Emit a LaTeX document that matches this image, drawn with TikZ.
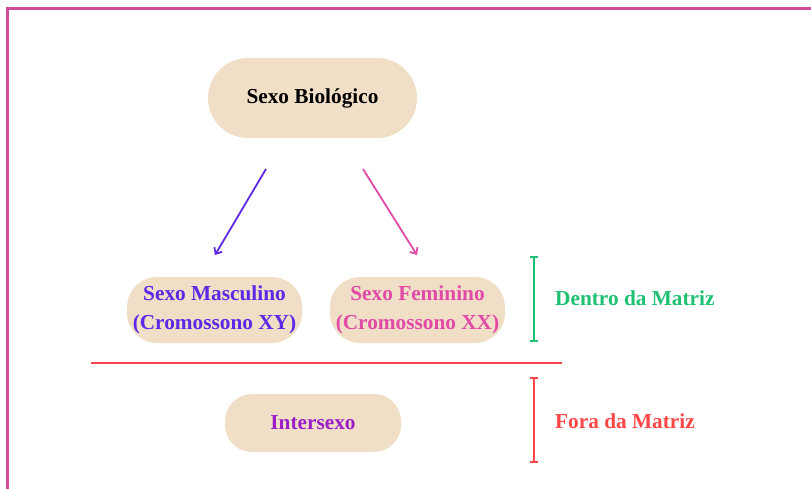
\documentclass[tikz,border=0pt]{standalone}
\usepackage{fontspec}
\setmainfont{Liberation Serif}
\usetikzlibrary{arrows.meta}
\definecolor{pillfill}{HTML}{F0DFC6}
\definecolor{framec}{HTML}{D04A9E}
\definecolor{mascc}{HTML}{5F27E6}
\definecolor{femc}{HTML}{E24AA8}
\definecolor{interc}{HTML}{9B1FC8}
\definecolor{greenc}{HTML}{1EC072}
\definecolor{redc}{HTML}{FF4646}
\tikzset{
  pill/.style={fill=pillfill, draw=none, inner sep=0pt, align=center,
    font=\fontsize{21.3}{29}\selectfont\bfseries},
  lbl/.style={anchor=west, inner sep=0pt, font=\fontsize{21.3}{29}\selectfont\bfseries},
  conn/.style={line width=1.8pt, -{Straight Barb[length=5pt,width=9pt]}},
  brace/.style={line width=2pt, {Bar[width=8pt]}-{Bar[width=8pt]}}
}
\begin{document}
\begin{tikzpicture}[x=1pt,y=-1pt]
\useasboundingbox (0,0) rectangle (811,489);
\clip (0,0) rectangle (811,489);
\draw[framec, line width=2.8pt] (7.8,8.7) rectangle (840,520);

\node[pill, minimum width=209pt, minimum height=80pt, rounded corners=40pt] (bio) at (312.5,98) {Sexo Biológico};
\node[pill, minimum width=175pt, minimum height=66pt, rounded corners=30pt, text=mascc] (masc) at (214.5,310) {Sexo Masculino\\(Cromossono XY)};
\node[pill, minimum width=175pt, minimum height=66pt, rounded corners=30pt, text=femc] (fem) at (417.5,310) {Sexo Feminino\\(Cromossono XX)};
\node[pill, minimum width=176pt, minimum height=58pt, rounded corners=27pt, text=interc] (inter) at (313,423) {Intersexo};

\coordinate (a1s) at (266,169);
\coordinate (a1e) at (215,255);
\coordinate (a2s) at (363,169);
\coordinate (a2e) at (417,255);
\draw[conn, mascc] (a1s) -- (a1e);
\draw[conn, femc] (a2s) -- (a2e);

\coordinate (sepl) at (91,362.5);
\coordinate (sepr) at (562,362.5);
\draw[redc, line width=2pt] (sepl) -- (sepr);

\coordinate (g1) at (534,256);
\coordinate (g2) at (534,342);
\draw[brace, greenc] (g1) -- (g2);
\node[lbl, text=greenc] (dentro) at (555,298) {Dentro da Matriz};

\coordinate (r1) at (534,377);
\coordinate (r2) at (534,463);
\draw[brace, redc] (r1) -- (r2);
\node[lbl, text=redc] (fora) at (555,421) {Fora da Matriz};
\end{tikzpicture}
\end{document}
